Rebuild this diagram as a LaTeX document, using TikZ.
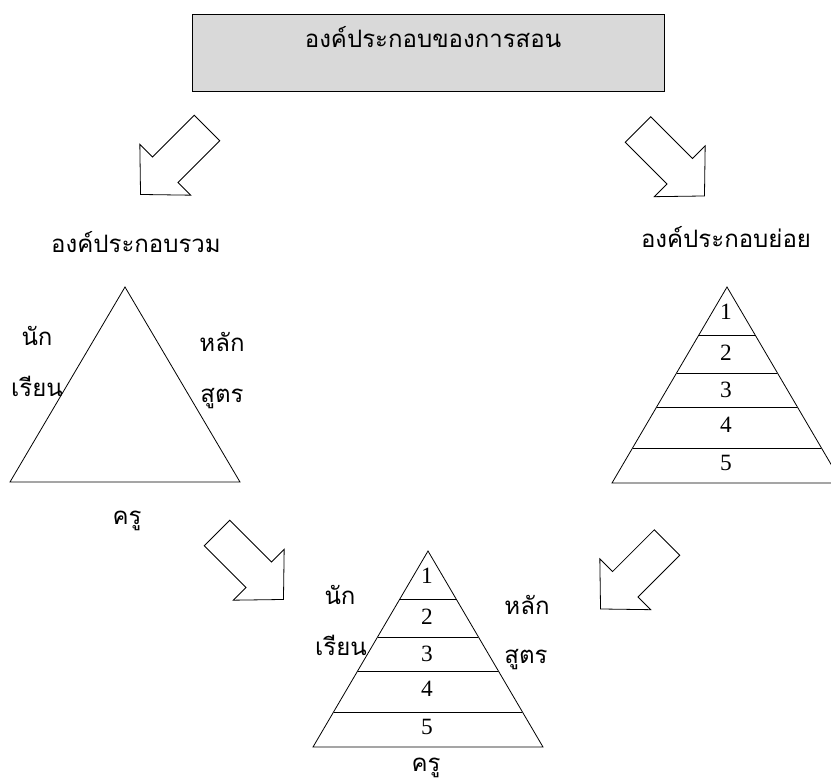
\documentclass[tikz,border=0pt]{standalone}
\usepackage{fontspec}
\setmainfont{Liberation Serif}
\newfontfamily\thaifont[Script=Thai]{Loma}
\begin{document}
\begin{tikzpicture}[x=0.75pt, y=-0.75pt, line width=0.6pt,
  thaitext/.style={font=\thaifont\fontsize{18}{22}\selectfont, inner sep=0pt, anchor=base},
  numtext/.style={font=\fontsize{17.5}{20}\selectfont, inner sep=0pt},
  titlebox/.style={draw, fill=black!15, minimum width=354pt, minimum height=57.75pt, inner sep=0pt},
  blockarrow/.pic={\draw (0,-18) -- (59,-18) -- (59,-36) -- (94,0) -- (59,36) -- (59,18) -- (0,18) -- cycle;},
  pyramid/.pic={
    \draw (0,0) -- (115,196) -- (-115,196) -- cycle;
    \foreach \d in {48,86,120,161}
      \draw ({-0.5867*\d},\d) -- ({0.5867*\d},\d);
    \foreach \n/\y in {1/25,2/66,3/103,4/138,5/176}
      \node[numtext] (-n\n) at (-1,\y) {\n};
  }]

  \useasboundingbox (0,0) rectangle (831,783);
  \clip (0,0) rectangle (831,783);

  % --- top box ---
  \node[titlebox] (title) at (428,52.5) {};
  \node[thaitext] (titletext) at (433,47) {องค์ประกอบของการสอน};

  % --- arrows ---
  \pic[rotate=225] at (207,128) {blockarrow};
  \pic[rotate=-45] at (638,129.5) {blockarrow};
  \pic[rotate=-45] at (217,533) {blockarrow};
  \pic[rotate=225] at (667,542.5) {blockarrow};

  % --- left: whole components ---
  \node[thaitext] (wholehead) at (136,252) {องค์ประกอบรวม};
  \draw (125,287) -- (240,482) -- (10,482) -- cycle;
  \node[thaitext] (lstud1) at (37,345) {นัก};
  \node[thaitext] (lstud2) at (37,396) {เรียน};
  \node[thaitext] (lcurr1) at (222,351) {หลัก};
  \node[thaitext] (lcurr2) at (222,402) {สูตร};
  \node[thaitext] (lteach) at (127,524) {ครู};

  % --- right: sub components ---
  \node[thaitext] (subhead) at (726,247) {องค์ประกอบย่อย};
  \pic (rpyr) at (727,287) {pyramid};

  % --- bottom: combined ---
  \pic (bpyr) at (428,551) {pyramid};
  \node[thaitext] (bstud1) at (340,604) {นัก};
  \node[thaitext] (bstud2) at (341,655) {เรียน};
  \node[thaitext] (bcurr1) at (527,614) {หลัก};
  \node[thaitext] (bcurr2) at (526,663) {สูตร};
  \node[thaitext] (bteach) at (426,771) {ครู};

\end{tikzpicture}
\end{document}
